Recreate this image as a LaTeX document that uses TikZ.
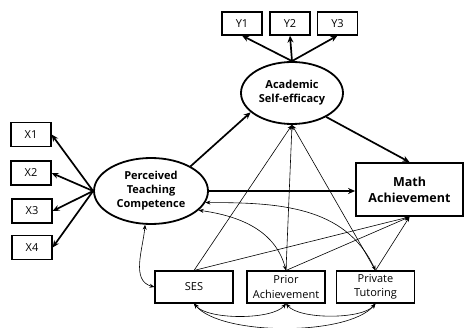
\documentclass[tikz,border=0pt]{standalone}
\usepackage{fontspec}
\setmainfont{Open Sans}
\usetikzlibrary{arrows.meta,shapes.geometric}

\tikzset{
  ind/.style={draw, line width=1.2pt, minimum width=40pt, minimum height=24pt, inner sep=0pt, font=\fontsize{11}{12}\selectfont},
  cov/.style={draw, line width=1.1pt, minimum width=78pt, minimum height=32pt, inner sep=0pt, align=center, font=\fontsize{11}{14.5}\selectfont},
  lat/.style={ellipse, draw, line width=1.8pt, inner sep=0pt, align=center, font=\bfseries\fontsize{11}{14}\selectfont},
  heavy/.style={line width=1.7pt, -{Stealth[length=7pt,width=6pt]}},
  thin/.style={line width=0.6pt, -{Stealth[length=5pt,width=4pt]}},
  twoway/.style={line width=0.6pt, {Stealth[length=5pt,width=4pt]}-{Stealth[length=5pt,width=4pt]}}
}

\begin{document}
\begin{tikzpicture}[x=1pt,y=1pt]
	\useasboundingbox (0,0) rectangle (468,-328);
	%%%%%%%%%%%%%
	\node[lat, minimum width=114pt, minimum height=66pt] (ptc) at (151,-191) {Perceived\\Teaching\\Competence};
	\node[lat, minimum width=102pt, minimum height=62pt] (ase) at (292,-93) {Academic\\Self-efficacy};
	\node[draw, line width=1.8pt, minimum width=107pt, minimum height=53pt, align=center, font=\bfseries\fontsize{12.5}{16}\selectfont] (math) at (409.5,-189.5) {Math\\Achievement};
	%%%%%%%%%%%%%
	\node[ind] (x1) at (31,-134.5) {X1};
	\node[ind] (x2) at (31,-173) {X2};
	\node[ind] (x3) at (32,-211) {X3};
	\node[ind] (x4) at (32,-247.5) {X4};
	\node[ind, minimum height=23pt] (y1) at (242,-23.5) {Y1};
	\node[ind, minimum height=23pt] (y2) at (290,-23.5) {Y2};
	\node[ind, minimum height=23pt] (y3) at (337.5,-23.5) {Y3};
	%%%%%%%%%%%%%
	\node[cov] (ses) at (194,-287) {SES};
	\node[cov] (prior) at (286,-287) {Prior\\Achievement};
	\node[cov] (tutor) at (375.5,-287) {Private\\Tutoring};
	%%%%%%%%%%%%%
	\foreach \x in {x1,x2,x3,x4}
		\draw[heavy] (ptc.west) -- (\x.east);
	\foreach \y in {y1,y2,y3}
		\draw[heavy] (ase.north) -- (\y.south);
	\draw[heavy] (ptc.32) -- (ase.205);
	\draw[heavy] (ase.-35) -- (math.north);
	\draw[heavy] (ptc.east) -- (ptc.east -| math.west);
	%%%%%%%%%%%%%
	\foreach \c in {ses,prior,tutor} {
		\draw[thin] (\c.north) -- (ase.south);
		\draw[thin] (\c.north) -- (math.south);
	}
	%%%%%%%%%%%%%
	\draw[twoway] (ptc.260) to[out=-95, in=165] (ses.west);
	\draw[twoway] (ptc.-22) to[out=-8, in=105] (prior.north);
	\draw[twoway] (ptc.-12) to[out=0, in=115] (tutor.north);
	\draw[twoway] (ses.south) to[out=-50, in=-130, looseness=0.6] (prior.south);
	\draw[twoway] (prior.south) to[out=-50, in=-130, looseness=0.6] (tutor.south);
	\draw[twoway] (ses.south) to[out=-50, in=-130, looseness=0.6] (tutor.south);
\end{tikzpicture}
\end{document}
